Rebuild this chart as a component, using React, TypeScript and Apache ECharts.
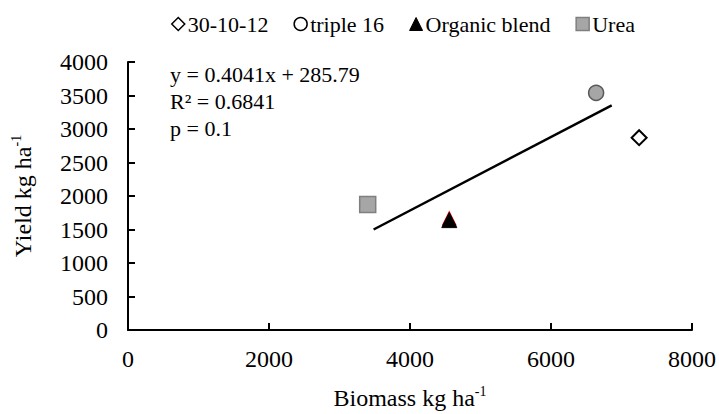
import React, { useEffect, useRef } from "react";
import * as echarts from "echarts";

const seriesNames = ["30-10-12", "triple 16", "Organic blend", "Urea"];
const biomass = [7250, 6640, 4557, 3400];
const yieldVals = [2870, 3540, 1640, 1873];
const redMarkBiomass = 4557;
const redMarkYield = 1672;
const trendBiomass = [3484, 6861];
const trendYield = [1500, 3353];
const equationLines = ["y = 0.4041x + 285.79", "R² = 0.6841", "p = 0.1"];
const xMin = 0, xMax = 8000, xInterval = 2000;
const yMin = 0, yMax = 4000, yInterval = 500;
const xTitle = "Biomass kg ha";
const yTitle = "Yield kg ha";
const unitSup = "-1";

const FONT = "Liberation Serif";

export default function App() {
  const ref = useRef<HTMLDivElement>(null);
  useEffect(() => {
    if (!ref.current) return;
    const chart = echarts.init(ref.current, undefined, { renderer: "svg" });
    const symbols = ["diamond", "circle", "triangle", "rect"];
    const styles = [
      { color: "#ffffff", borderColor: "#000000", borderWidth: 2, opacity: 1 },
      { color: "#a6a6a6", borderColor: "#595959", borderWidth: 1.5, opacity: 1 },
      { color: "#000000", borderColor: "#000000", borderWidth: 1, opacity: 1 },
      { color: "#a6a6a6", borderColor: "#7f7f7f", borderWidth: 1.5, opacity: 1 },
    ];
    const sizes = [15, 15, 15, 16];
    const legendStyles = [
      { color: "#ffffff", borderColor: "#000000", borderWidth: 1.5, opacity: 1 },
      { color: "#ffffff", borderColor: "#000000", borderWidth: 1.5, opacity: 1 },
      { color: "#000000", borderColor: "#000000", borderWidth: 1, opacity: 1 },
      { color: "#a6a6a6", borderColor: "#7f7f7f", borderWidth: 1.5, opacity: 1 },
    ];
    const pointSeries: any[] = seriesNames.map((name, i) => ({
      name,
      type: "scatter",
      symbol: symbols[i],
      symbolSize: sizes[i],
      itemStyle: styles[i],
      data: [[biomass[i], yieldVals[i]]],
      z: 3,
    }));
    const nameStyle = {
      fontFamily: FONT,
      fontSize: 24,
      fontWeight: "normal",
      color: "#000",
      lineHeight: 27,
      rich: {
        m: { fontFamily: FONT, fontSize: 24, fontWeight: "normal", lineHeight: 27, color: "#000" },
        sup: { fontFamily: FONT, fontSize: 14, fontWeight: "normal", lineHeight: 14, verticalAlign: "top", color: "#000" },
      },
    };
    const labelStyle = {
      fontFamily: FONT,
      fontSize: 24,
      fontWeight: "normal",
      color: "#000",
      formatter: (v: number) => "{t|" + String(v) + "}",
      rich: { t: { fontFamily: FONT, fontSize: 24, fontWeight: "normal", color: "#000" } },
    };
    const option: any = {
      animation: false,
      textStyle: { fontFamily: FONT, color: "#000", fontWeight: "normal" },
      grid: { left: 128, right: 27, top: 62, bottom: 84, containLabel: false, outerBoundsMode: "none" },
      legend: {
        left: 166,
        top: 8,
        itemWidth: 13,
        itemHeight: 13,
        itemGap: 25,
        textStyle: { fontFamily: FONT, fontSize: 22, color: "#000", padding: [0, 0, 0, -2] },
        data: seriesNames.map((name, i) => ({
          name,
          icon: symbols[i],
          itemStyle: legendStyles[i],
        })),
      },
      xAxis: {
        type: "value",
        min: xMin,
        max: xMax,
        interval: xInterval,
        name: "{m|" + xTitle + "}{sup|" + unitSup + "}",
        nameLocation: "middle",
        nameGap: 54,
        nameTextStyle: nameStyle,
        axisLine: { show: true, lineStyle: { color: "#000", width: 2 } },
        axisTick: { show: true, inside: true, length: 7, lineStyle: { color: "#000", width: 2 } },
        axisLabel: { ...labelStyle, margin: 17 },
        splitLine: { show: false },
      },
      yAxis: {
        type: "value",
        min: yMin,
        max: yMax,
        interval: yInterval,
        name: "{m|" + yTitle + "}{sup|" + unitSup + "}",
        nameLocation: "middle",
        nameGap: 92,
        nameTextStyle: nameStyle,
        axisLine: { show: true, lineStyle: { color: "#000", width: 2 } },
        axisTick: { show: true, inside: true, length: 7, lineStyle: { color: "#000", width: 2 } },
        axisLabel: { ...labelStyle, margin: 20 },
        splitLine: { show: false },
      },
      series: [
        {
          name: "trend",
          type: "line",
          data: [
            [trendBiomass[0], trendYield[0]],
            [trendBiomass[1], trendYield[1]],
          ],
          showSymbol: false,
          symbol: "none",
          lineStyle: { color: "#000", width: 2.5 },
          z: 2,
          silent: true,
        },
        {
          name: "marker",
          type: "scatter",
          symbol: "triangle",
          symbolSize: 15,
          itemStyle: { color: "#ff0000", opacity: 1 },
          data: [[redMarkBiomass, redMarkYield]],
          z: 2,
        },
        ...pointSeries,
      ],
      graphic: equationLines.map((t, i) => ({
        type: "text",
        left: 170,
        top: 63 + i * 27,
        style: { text: t, fontFamily: FONT, fontSize: 22, fill: "#000" },
      })),
    };
    chart.setOption(option);
    return () => chart.dispose();
  }, []);
  return (
    <div
      ref={ref}
      style={{ position: "fixed", left: 0, top: 0, width: 719, height: 414, background: "#fff" }}
    />
  );
}
